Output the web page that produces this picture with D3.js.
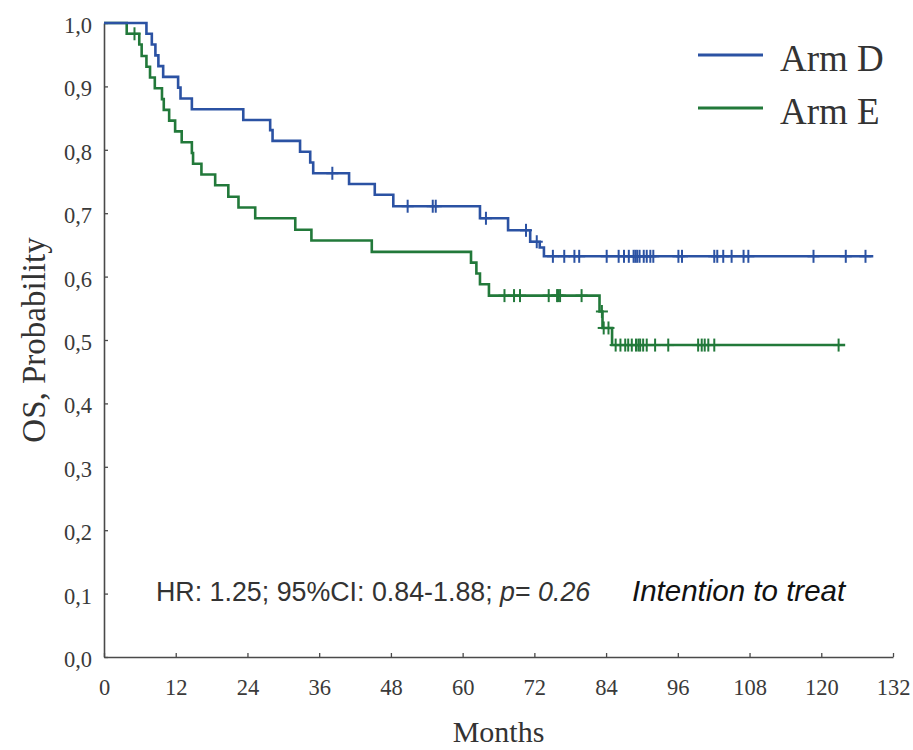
<!DOCTYPE html>
<html>
<head>
<meta charset="utf-8">
<script src="https://cdn.jsdelivr.net/npm/d3@7"></script>
<style>
  html, body { margin: 0; padding: 0; background: #fff; }
  svg { display: block; }
</style>
</head>
<body>
<svg id="chart" width="913" height="750"></svg>
<script>
// ---------- data ----------
const xTicks = [0, 12, 24, 36, 48, 60, 72, 84, 96, 108, 120, 132];
const yTicks = [0, 0.1, 0.2, 0.3, 0.4, 0.5, 0.6, 0.7, 0.8, 0.9, 1.0];
const yTickLabels = ["0,0", "0,1", "0,2", "0,3", "0,4", "0,5", "0,6", "0,7", "0,8", "0,9", "1,0"];

const seriesNames = ["Arm D", "Arm E"];

// Arm D: event times (months) and survival after each event
const armDTimes = [7.1, 8.0, 8.6, 9.1, 9.9, 12.4, 12.8, 14.7, 23.3, 27.8, 28.2, 32.8, 34.5, 35.0,
  41.0, 45.3, 48.4, 62.9, 67.6, 71.3, 72.9, 73.6];
const armDSurv = [0.983, 0.966, 0.949, 0.932, 0.915, 0.898, 0.881, 0.864, 0.847, 0.831, 0.814, 0.797, 0.780, 0.763,
  0.746, 0.729, 0.711, 0.692, 0.673, 0.655, 0.646, 0.632];
const armDCensor = [38.2, 50.8, 55.0, 55.5, 63.9, 70.6, 72.4, 75.1, 77.0, 78.7, 79.5, 84.1, 86.1, 87.0, 87.8,
  88.6, 88.9, 89.2, 89.6, 90.3, 90.8, 91.4, 91.9, 96.1, 96.7, 102.1, 102.6, 103.6, 105.0, 107.0, 107.8,
  118.7, 124.1, 127.4];
const armDEnd = 128.7;

// Arm E
const armETimes = [3.8, 5.9, 6.3, 7.1, 7.7, 8.5, 9.7, 10.0, 10.9, 11.9, 13.0, 14.7, 14.9, 16.3, 18.6, 20.8,
  22.5, 25.3, 32.0, 34.7, 44.8, 61.4, 62.3, 62.9, 64.4, 82.9, 83.4, 85.0];
const armESurv = [0.983, 0.966, 0.948, 0.931, 0.914, 0.897, 0.880, 0.863, 0.846, 0.829, 0.812, 0.795, 0.778,
  0.761, 0.744, 0.726, 0.709, 0.692, 0.674, 0.657, 0.639, 0.622, 0.605, 0.588, 0.570, 0.545, 0.519, 0.492];
const armECensor = [5.1, 67.0, 68.6, 69.6, 74.4, 75.8, 76.0, 76.3, 79.9, 83.3, 83.6, 84.4, 85.6, 86.4, 87.2,
  87.7, 88.3, 89.0, 89.4, 89.7, 90.2, 90.8, 92.2, 94.4, 99.4, 100.0, 100.5, 101.1, 102.1, 122.9];
const armEEnd = 124.0;

const annotationMain = "HR: 1.25; 95%CI: 0.84-1.88; ";
const annotationP = "p";
const annotationEq = "= ";
const annotationPVal = "0.26";
const annotationITT = "Intention to treat";
const xTitle = "Months";
const yTitle = "OS, Probability";

// ---------- drawing ----------
const colors = ["#2b52a3", "#22793a"];
const svg = d3.select("#chart");

const x = d3.scaleLinear().domain([0, 132]).range([104, 893]);
const y = d3.scaleLinear().domain([0, 1]).range([657, 23]);

const serif = "'Liberation Serif', 'Times New Roman', serif";
const sans = "'Liberation Sans', Arial, sans-serif";

// axes
const xAxis = d3.axisBottom(x).tickValues(xTicks).tickFormat(d => String(d))
  .tickSizeInner(-4).tickSizeOuter(0).tickPadding(22);
const gx = svg.append("g").attr("transform", `translate(0,${y(0)})`).call(xAxis);

const yAxis = d3.axisLeft(y).tickValues(yTicks).tickFormat((d, i) => yTickLabels[i])
  .tickSizeInner(-4).tickSizeOuter(0).tickPadding(12);
const gy = svg.append("g").attr("transform", `translate(${x(0)},0)`).call(yAxis);

[gx, gy].forEach(g => {
  g.select(".domain").attr("stroke", "#4a4a4a").attr("stroke-width", 1.6);
  g.selectAll(".tick line").attr("stroke", "#4a4a4a").attr("stroke-width", 1.3);
  g.selectAll(".tick text").attr("fill", "#3a3a3a")
    .style("font-family", serif).style("font-size", "22.5px");
});
gy.selectAll(".tick text").attr("dy", "0.42em");

// KM curves
function buildSeries(times, surv, end) {
  const pts = [[0, 1]];
  times.forEach((t, i) => pts.push([t, surv[i]]));
  pts.push([end, surv[surv.length - 1]]);
  return pts;
}
function survAt(times, surv, t) {
  let s = 1;
  for (let i = 0; i < times.length; i++) if (times[i] <= t) s = surv[i];
  return s;
}

const series = [
  { name: seriesNames[0], pts: buildSeries(armDTimes, armDSurv, armDEnd),
    cens: armDCensor.map(t => [t, survAt(armDTimes, armDSurv, t)]), color: colors[0] },
  { name: seriesNames[1], pts: buildSeries(armETimes, armESurv, armEEnd),
    cens: armECensor.map(t => [t, survAt(armETimes, armESurv, t)]), color: colors[1] }
];

const line = d3.line().x(d => x(d[0])).y(d => y(d[1])).curve(d3.curveStepAfter);

// draw green first, then blue on top
[series[1], series[0]].forEach(s => {
  const g = svg.append("g");
  g.append("path").attr("d", line(s.pts)).attr("fill", "none")
    .attr("stroke", s.color).attr("stroke-width", 2.6);
  const m = g.selectAll(".c").data(s.cens).enter().append("g")
    .attr("transform", d => `translate(${x(d[0])},${y(d[1])})`);
  m.append("line").attr("x1", 0).attr("x2", 0).attr("y1", -6.5).attr("y2", 6.5)
    .attr("stroke", s.color).attr("stroke-width", 2);
  m.append("line").attr("x1", -6).attr("x2", 6).attr("y1", 0).attr("y2", 0)
    .attr("stroke", s.color).attr("stroke-width", 2);
});

// legend
const legY = [55, 108];
series.forEach((s, i) => {
  svg.append("line").attr("x1", 698).attr("x2", 763).attr("y1", legY[i]).attr("y2", legY[i])
    .attr("stroke", s.color).attr("stroke-width", 2.8);
  svg.append("text").attr("x", 780).attr("y", legY[i] + 16)
    .style("font-family", serif).style("font-size", "37px").attr("fill", "#333")
    .text(s.name);
});

// annotation
const ann = svg.append("text").attr("x", 156).attr("y", 601)
  .style("font-family", sans).style("font-size", "26.8px").attr("fill", "#333");
ann.append("tspan").text(annotationMain);
ann.append("tspan").style("font-style", "italic").text(annotationP);
ann.append("tspan").text(annotationEq);
ann.append("tspan").style("font-style", "italic").text(annotationPVal);

svg.append("text").attr("x", 632).attr("y", 601)
  .style("font-family", sans).style("font-size", "29.5px").style("font-style", "italic")
  .attr("fill", "#111").text(annotationITT);

// axis titles
svg.append("text").attr("x", 498.5).attr("y", 742).attr("text-anchor", "middle")
  .style("font-family", serif).style("font-size", "30px").attr("fill", "#333").text(xTitle);
svg.append("text").attr("transform", "translate(45,340) rotate(-90)").attr("text-anchor", "middle")
  .style("font-family", serif).style("font-size", "33px").attr("fill", "#333").text(yTitle);
</script>
</body>
</html>
